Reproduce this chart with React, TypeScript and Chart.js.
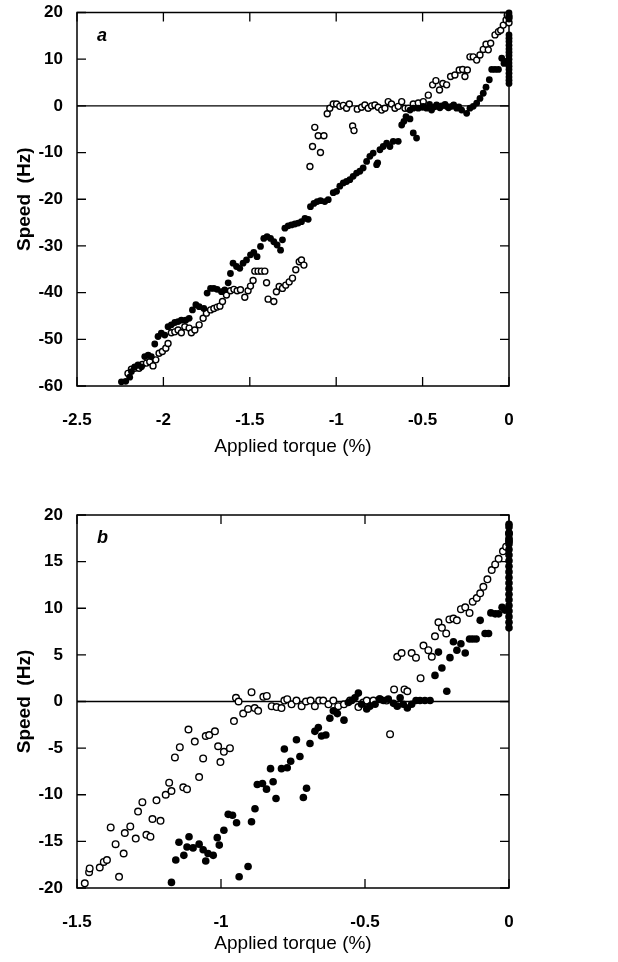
import React, { useEffect, useRef } from "react";
import { Chart, registerables } from "chart.js";
Chart.register(...registerables);

const FONT = "'Liberation Sans', Arial, Helvetica, sans-serif";

// ---------- Panel a ----------
const aXTicks = [-2.5, -2, -1.5, -1, -0.5, 0];
const aXTickLabels = ["-2.5", "-2", "-1.5", "-1", "-0.5", "0"];
const aYTicks = [-60, -50, -40, -30, -20, -10, 0, 10, 20];
const aYTickLabels = ["-60", "-50", "-40", "-30", "-20", "-10", "0", "10", "20"];

const aFilledTorque = [
  -2.243, -2.218, -2.195, -2.185, -2.166, -2.147, -2.127, -2.108, -2.088, -2.07,
  -2.05, -2.031, -2.012, -1.992, -1.973, -1.954, -1.934, -1.915, -1.896, -1.871,
  -1.851, -1.832, -1.812, -1.793, -1.766, -1.747, -1.727, -1.708, -1.689, -1.664,
  -1.645, -1.625, -1.612, -1.597, -1.577, -1.558, -1.539, -1.519, -1.496, -1.477,
  -1.458, -1.438, -1.419, -1.4, -1.38, -1.361, -1.342, -1.322, -1.311, -1.297,
  -1.278, -1.259, -1.239, -1.22, -1.201, -1.181, -1.162, -1.149, -1.129, -1.11,
  -1.091, -1.066, -1.046, -1.017, -0.998, -0.979, -0.959, -0.94, -0.921, -0.902,
  -0.882, -0.863, -0.844, -0.824, -0.805, -0.786, -0.766, -0.76, -0.747, -0.728,
  -0.708, -0.689, -0.67, -0.641, -0.621, -0.608, -0.596, -0.573, -0.554, -0.535,
  -0.573, -0.554, -0.525, -0.5, -0.496, -0.477, -0.46, -0.448, -0.43, -0.419,
  -0.4, -0.39, -0.37, -0.361, -0.35, -0.332, -0.32, -0.303, -0.29, -0.274,
  -0.245, -0.226, -0.207, -0.187, -0.168, -0.149, -0.133, -0.114, -0.1, -0.081,
  -0.061, -0.042, -0.029, -0.014,
  0, 0, 0, 0, 0, 0, 0, 0, 0, 0, 0, 0, 0, 0, 0, 0, 0, 0,
];
const aFilledSpeed = [
  -59.1, -59.0, -58.1, -56.9, -55.9, -55.5, -55.9, -53.7, -53.4, -53.7,
  -51.0, -49.4, -48.7, -49.1, -47.3, -46.9, -46.4, -46.2, -45.9, -45.9,
  -45.5, -43.7, -42.6, -43.0, -43.4, -40.1, -39.1, -39.1, -39.3, -39.8,
  -39.4, -37.9, -35.9, -33.7, -34.4, -34.8, -33.7, -33.0, -31.9, -31.4,
  -32.3, -30.1, -28.4, -28.0, -28.4, -29.1, -29.8, -30.9, -28.7, -26.2,
  -25.7, -25.5, -25.3, -25.1, -24.8, -24.1, -24.3, -21.6, -20.9, -20.5,
  -20.3, -20.5, -20.1, -18.6, -18.3, -17.2, -16.5, -16.2, -15.8, -15.1,
  -14.4, -14.0, -13.3, -11.9, -10.8, -10.1, -12.6, -12.2, -9.4, -8.7,
  -8.0, -8.7, -7.6, -7.6, -4.1, -3.3, -2.3, -2.8, -5.8, -6.9,
  -0.9, -0.5, -0.5, -0.3, -0.1, -0.5, 0.3, -0.9, -0.2, 0.2,
  -0.4, 0.0, 0.3, -0.1, -0.4, -0.1, 0.2, -0.5, -0.2, -0.9,
  -1.6, -0.5, -0.1, 0.6, 1.6, 2.7, 4.0, 5.6, 7.8, 7.8,
  7.8, 10.2, 9.1, 9.5,
  4.8, 5.5, 6.2, 7.0, 7.8, 8.5, 9.2, 10.0, 10.8, 11.5, 12.2, 13.0, 13.8, 14.5, 15.2, 18.6, 19.3, 19.9,
];

const aOpenTorque = [
  -2.205, -2.185, -2.166, -2.141, -2.122, -2.098, -2.079, -2.06, -2.044, -2.025,
  -2.006, -1.986, -1.973, -1.954, -1.934, -1.915, -1.896, -1.876, -1.851, -1.838,
  -1.818, -1.793, -1.77, -1.751, -1.727, -1.708, -1.689, -1.673, -1.658, -1.635,
  -1.612, -1.592, -1.573, -1.554, -1.529, -1.51, -1.496, -1.481, -1.471, -1.452,
  -1.433, -1.413, -1.403, -1.394, -1.361, -1.346, -1.33, -1.311, -1.292, -1.272,
  -1.253, -1.234, -1.214, -1.201, -1.187, -1.152, -1.137, -1.124, -1.104, -1.091,
  -1.071, -1.052, -1.037, -1.017, -0.998, -0.979, -0.959, -0.94, -0.924, -0.905,
  -0.897, -0.878, -0.853, -0.834, -0.815, -0.795, -0.776, -0.757, -0.737, -0.718,
  -0.699, -0.68, -0.66, -0.641, -0.621, -0.602, -0.583, -0.554, -0.525, -0.496,
  -0.467, -0.442, -0.423, -0.402, -0.383, -0.361, -0.338, -0.313, -0.288, -0.268,
  -0.255, -0.241, -0.226, -0.207, -0.187, -0.168, -0.149, -0.133, -0.12, -0.106,
  -0.081, -0.061, -0.048, -0.033, -0.017, -0.01, 0, 0,
];
const aOpenSpeed = [
  -57.3, -56.4, -56.2, -56.2, -55.4, -55.1, -54.8, -55.7, -54.4, -53.0,
  -52.6, -51.9, -50.9, -48.6, -48.4, -48.0, -48.6, -47.3, -47.6, -48.6,
  -48.0, -46.9, -45.5, -44.4, -43.7, -43.4, -43.1, -42.9, -41.9, -40.5,
  -39.6, -39.3, -39.6, -39.4, -41.0, -39.6, -38.6, -37.4, -35.4, -35.4,
  -35.4, -35.4, -37.9, -41.4, -41.9, -39.8, -38.7, -39.1, -38.4, -37.7,
  -36.9, -35.1, -33.4, -33.0, -34.1, -13.0, -8.7, -4.6, -6.4, -10.0,
  -6.4, -1.7, -0.5, 0.4, 0.4, -0.1, 0.1, -0.5, 0.4, -4.3,
  -5.3, -0.7, -0.3, 0.2, -0.5, 0.0, 0.2, -0.3, -0.9, -0.5,
  0.9, 0.4, -0.5, -0.1, 0.9, -0.5, -0.5, 0.4, 0.6, 0.9,
  2.3, 4.5, 5.4, 3.4, 4.8, 4.5, 6.3, 6.6, 7.7, 7.8,
  6.3, 7.7, 10.5, 10.5, 9.8, 10.9, 12.1, 13.2, 12.0, 13.4,
  15.2, 15.9, 16.2, 17.3, 18.4, 19.4, 17.8, 19.0,
];

// ---------- Panel b ----------
const bXTicks = [-1.5, -1, -0.5, 0];
const bXTickLabels = ["-1.5", "-1", "-0.5", "0"];
const bYTicks = [-20, -15, -10, -5, 0, 5, 10, 15, 20];
const bYTickLabels = ["-20", "-15", "-10", "-5", "0", "5", "10", "15", "20"];

const bOpenTorque = [
  -1.473, -1.458, -1.456, -1.421, -1.407, -1.396, -1.383, -1.366, -1.354, -1.338,
  -1.334, -1.315, -1.296, -1.288, -1.273, -1.259, -1.245, -1.238, -1.224, -1.21,
  -1.192, -1.18, -1.172, -1.16, -1.143, -1.131, -1.118, -1.113, -1.091, -1.076,
  -1.062, -1.053, -1.041, -1.021, -1.01, -1.002, -0.99, -0.969, -0.955, -0.948,
  -0.939, -0.923, -0.906, -0.894, -0.883, -0.871, -0.853, -0.841, -0.824, -0.807,
  -0.79, -0.78, -0.77, -0.755, -0.738, -0.72, -0.705, -0.689, -0.674, -0.659,
  -0.645, -0.627, -0.61, -0.593, -0.573, -0.552, -0.523, -0.506, -0.494, -0.471,
  -0.448, -0.425, -0.413, -0.399, -0.388, -0.373, -0.363, -0.353, -0.338, -0.323,
  -0.307, -0.297, -0.28, -0.268, -0.257, -0.245, -0.233, -0.218, -0.207, -0.193,
  -0.181, -0.167, -0.152, -0.137, -0.126, -0.112, -0.1, -0.089, -0.075, -0.06,
  -0.048, -0.036, -0.021, -0.01, 0, 0,
];
const bOpenSpeed = [
  -19.5, -18.3, -17.9, -17.8, -17.2, -17.0, -13.5, -15.3, -18.8, -16.3,
  -14.1, -13.4, -14.7, -11.8, -10.8, -14.3, -14.5, -12.6, -10.6, -12.8,
  -10.0, -8.7, -9.6, -6.0, -4.9, -9.2, -9.4, -3.0, -4.3, -8.1,
  -6.1, -3.7, -3.6, -3.2, -4.8, -6.5, -5.4, -5.0, -2.1, 0.4,
  0.0, -1.3, -0.8, 1.0, -0.7, -1.0, 0.5, 0.6, -0.5, -0.6,
  -0.7, 0.1, 0.25, -0.3, 0.1, -0.5, 0.0, 0.1, -0.5, 0.1,
  0.1, -0.3, 0.1, -0.5, -0.3, 0.1, -0.6, -0.1, 0.1, 0.1,
  0.25, 0.1, -3.5, 1.3, 4.8, 5.2, 1.3, 1.1, 5.2, 4.7,
  2.5, 6.0, 5.5, 4.8, 7.0, 8.5, 7.9, 7.3, 8.8, 8.9,
  8.7, 9.9, 10.1, 9.5, 10.7, 11.1, 11.6, 12.3, 13.1, 14.1,
  14.7, 15.3, 16.1, 16.6, 17.2, 18.0,
];

const bFilledTorque = [
  -1.172, -1.157, -1.146, -1.129, -1.118, -1.111, -1.097, -1.076, -1.062, -1.053,
  -1.045, -1.027, -1.013, -1.006, -0.99, -0.975, -0.96, -0.946, -0.937, -0.906,
  -0.894, -0.882, -0.874, -0.856, -0.842, -0.828, -0.819, -0.809, -0.79, -0.78,
  -0.77, -0.758, -0.738, -0.726, -0.714, -0.703, -0.691, -0.674, -0.662, -0.651,
  -0.636, -0.622, -0.61, -0.596, -0.573, -0.558, -0.546, -0.535, -0.523, -0.512,
  -0.494, -0.483, -0.465, -0.45, -0.436, -0.419, -0.401, -0.388, -0.378, -0.367,
  -0.353, -0.338, -0.323, -0.309, -0.292, -0.274, -0.257, -0.245, -0.233, -0.216,
  -0.205, -0.193, -0.181, -0.167, -0.152, -0.137, -0.126, -0.114, -0.1, -0.083,
  -0.071, -0.063, -0.048, -0.036, -0.024, -0.014,
  0, 0, 0, 0, 0, 0, 0, 0, 0, 0, 0, 0, 0, 0, 0, 0, 0, 0, 0, 0,
];
const bFilledSpeed = [
  -19.4, -17.0, -15.1, -16.5, -15.6, -14.5, -15.7, -15.3, -15.9, -17.1,
  -16.3, -16.5, -14.6, -15.4, -13.8, -12.1, -12.2, -13.0, -18.8, -17.7,
  -12.9, -11.5, -8.9, -8.8, -9.4, -7.2, -8.6, -10.4, -7.2, -5.1,
  -7.1, -6.4, -4.1, -5.9, -10.3, -9.3, -4.5, -3.2, -2.8, -3.7,
  -3.6, -1.8, -1.0, -1.3, -2.0, -0.1, 0.1, 0.4, 0.9, -0.3,
  -0.8, -0.5, -0.3, 0.25, 0.1, 0.25, -0.2, -0.5, 0.4, -0.3,
  -0.7, -0.3, 0.1, 0.1, 0.1, 0.1, 2.8, 5.3, 3.6, 1.1,
  4.7, 6.4, 5.5, 6.2, 5.2, 6.7, 6.7, 6.7, 8.7, 7.3,
  7.3, 9.5, 9.4, 9.4, 10.1, 9.8,
  7.9, 8.5, 9.1, 9.7, 10.3, 10.9, 11.5, 12.1, 12.7, 13.3, 13.9, 14.5, 15.1, 15.7, 16.3, 16.9, 17.5, 18.1, 18.7, 19.0,
];

function pts(xs: number[], ys: number[]) {
  return xs.map((x, i) => ({ x, y: ys[i] }));
}

type PanelProps = {
  top: number;
  height: number;
  padTop: number;
  xAxisH: number;
  label: string;
  labelDx: number;
  labelDy: number;
  xMin: number;
  xMax: number;
  yMin: number;
  yMax: number;
  xTicks: number[];
  xTickLabels: string[];
  yTicks: number[];
  yTickLabels: string[];
  filledX: number[];
  filledY: number[];
  openX: number[];
  openY: number[];
  titlePadBottom: number;
  filledR: number;
  openR: number;
};

function Panel(p: PanelProps) {
  const ref = useRef<HTMLCanvasElement | null>(null);
  useEffect(() => {
    if (!ref.current) return;
    const framePlugin = {
      id: "frame",
      beforeDatasetsDraw(chart: any) {
        const { ctx, chartArea: a, scales } = chart;
        const xs = scales.x;
        const ys = scales.y;
        ctx.save();
        ctx.strokeStyle = "#000";
        const y0 = ys.getPixelForValue(0);
        ctx.lineWidth = 1.3;
        ctx.beginPath();
        ctx.moveTo(a.left, y0);
        ctx.lineTo(a.right, y0);
        ctx.stroke();
        ctx.lineWidth = 1.5;
        ctx.strokeRect(a.left, a.top, a.right - a.left, a.bottom - a.top);
        const tl = 9;
        ctx.lineWidth = 1.3;
        ctx.beginPath();
        xs.ticks.forEach((t: any) => {
          const px = xs.getPixelForValue(t.value);
          ctx.moveTo(px, a.bottom);
          ctx.lineTo(px, a.bottom - tl);
          ctx.moveTo(px, a.top);
          ctx.lineTo(px, a.top + tl);
        });
        ys.ticks.forEach((t: any) => {
          const py = ys.getPixelForValue(t.value);
          ctx.moveTo(a.left, py);
          ctx.lineTo(a.left + tl, py);
          ctx.moveTo(a.right, py);
          ctx.lineTo(a.right - tl, py);
        });
        ctx.stroke();
        ctx.restore();
      },
      afterDatasetsDraw(chart: any) {
        const { ctx, chartArea: a } = chart;
        ctx.save();
        ctx.fillStyle = "#000";
        ctx.font = `italic bold 18px ${FONT}`;
        ctx.textAlign = "left";
        ctx.textBaseline = "middle";
        ctx.fillText(p.label, a.left + p.labelDx, a.top + p.labelDy);
        ctx.restore();
      },
    };

    const tickFont = { family: FONT, size: 17, weight: "bold" as const };
    const chart = new Chart(ref.current, {
      type: "scatter",
      data: {
        datasets: [
          {
            label: "filled",
            data: pts(p.filledX, p.filledY),
            pointRadius: p.filledR,
            pointBackgroundColor: "#000",
            pointBorderColor: "#000",
            pointBorderWidth: 0,
            showLine: false,
          },
          {
            label: "open",
            data: pts(p.openX, p.openY),
            pointRadius: p.openR,
            pointBackgroundColor: "#fff",
            pointBorderColor: "#000",
            pointBorderWidth: 1.4,
            showLine: false,
          },
        ],
      },
      options: {
        responsive: false,
        animation: false,
        devicePixelRatio: 1,
        clip: false as any,
        layout: { padding: { left: 0, right: 109, top: p.padTop, bottom: 0 } },
        plugins: { legend: { display: false }, tooltip: { enabled: false } },
        scales: {
          x: {
            type: "linear",
            position: "bottom",
            min: p.xMin,
            max: p.xMax,
            afterBuildTicks: (s: any) => {
              s.ticks = p.xTicks.map((v) => ({ value: v }));
            },
            afterFit: (s: any) => {
              s.height = p.xAxisH;
              s.paddingLeft = 0;
              s.paddingRight = 0;
            },
            ticks: {
              color: "#000",
              font: tickFont,
              padding: 24,
              maxRotation: 0,
              autoSkip: false,
              callback: (_v: any, i: number) => p.xTickLabels[i],
            },
            grid: { display: false, drawTicks: false },
            border: { display: false },
            title: {
              display: true,
              text: "Applied torque (%)",
              color: "#000",
              font: { family: FONT, size: 19 },
              padding: { top: 0, bottom: p.titlePadBottom },
            },
          },
          y: {
            type: "linear",
            position: "left",
            min: p.yMin,
            max: p.yMax,
            afterBuildTicks: (s: any) => {
              s.ticks = p.yTicks.map((v) => ({ value: v }));
            },
            afterFit: (s: any) => {
              s.width = 77;
              s.paddingTop = 0;
              s.paddingBottom = 0;
            },
            ticks: {
              color: "#000",
              font: tickFont,
              padding: 14,
              autoSkip: false,
              callback: (_v: any, i: number) => p.yTickLabels[i],
            },
            grid: { display: false, drawTicks: false },
            border: { display: false },
            title: {
              display: true,
              text: "Speed  (Hz)",
              color: "#000",
              font: { family: FONT, size: 19, weight: "bold" },
              padding: { top: 13.5, bottom: 0 },
            },
          },
        },
      },
      plugins: [framePlugin],
    });
    return () => chart.destroy();
  }, []);
  return (
    <canvas
      ref={ref}
      width={618}
      height={p.height}
      style={{ position: "absolute", left: 0, top: p.top, width: 618, height: p.height, display: "block" }}
    />
  );
}

export default function App() {
  return (
    <div style={{ position: "absolute", left: 0, top: 0, width: 618, height: 962, background: "#fff" }}>
      <Panel
        top={0}
        height={470}
        padTop={12.5}
        xAxisH={84}
        titlePadBottom={11.6}
        label="a"
        labelDx={20}
        labelDy={24}
        xMin={-2.5}
        xMax={0}
        yMin={-60}
        yMax={20}
        xTicks={aXTicks}
        xTickLabels={aXTickLabels}
        yTicks={aYTicks}
        yTickLabels={aYTickLabels}
        filledX={aFilledTorque}
        filledY={aFilledSpeed}
        openX={aOpenTorque}
        openY={aOpenSpeed}
        filledR={3.4}
        openR={3}
      />
      <Panel
        top={470}
        height={492}
        padTop={45}
        xAxisH={74}
        titlePadBottom={6.6}
        label="b"
        labelDx={20}
        labelDy={23}
        xMin={-1.5}
        xMax={0}
        yMin={-20}
        yMax={20}
        xTicks={bXTicks}
        xTickLabels={bXTickLabels}
        yTicks={bYTicks}
        yTickLabels={bYTickLabels}
        filledX={bFilledTorque}
        filledY={bFilledSpeed}
        openX={bOpenTorque}
        openY={bOpenSpeed}
        filledR={3.8}
        openR={3.3}
      />
    </div>
  );
}
